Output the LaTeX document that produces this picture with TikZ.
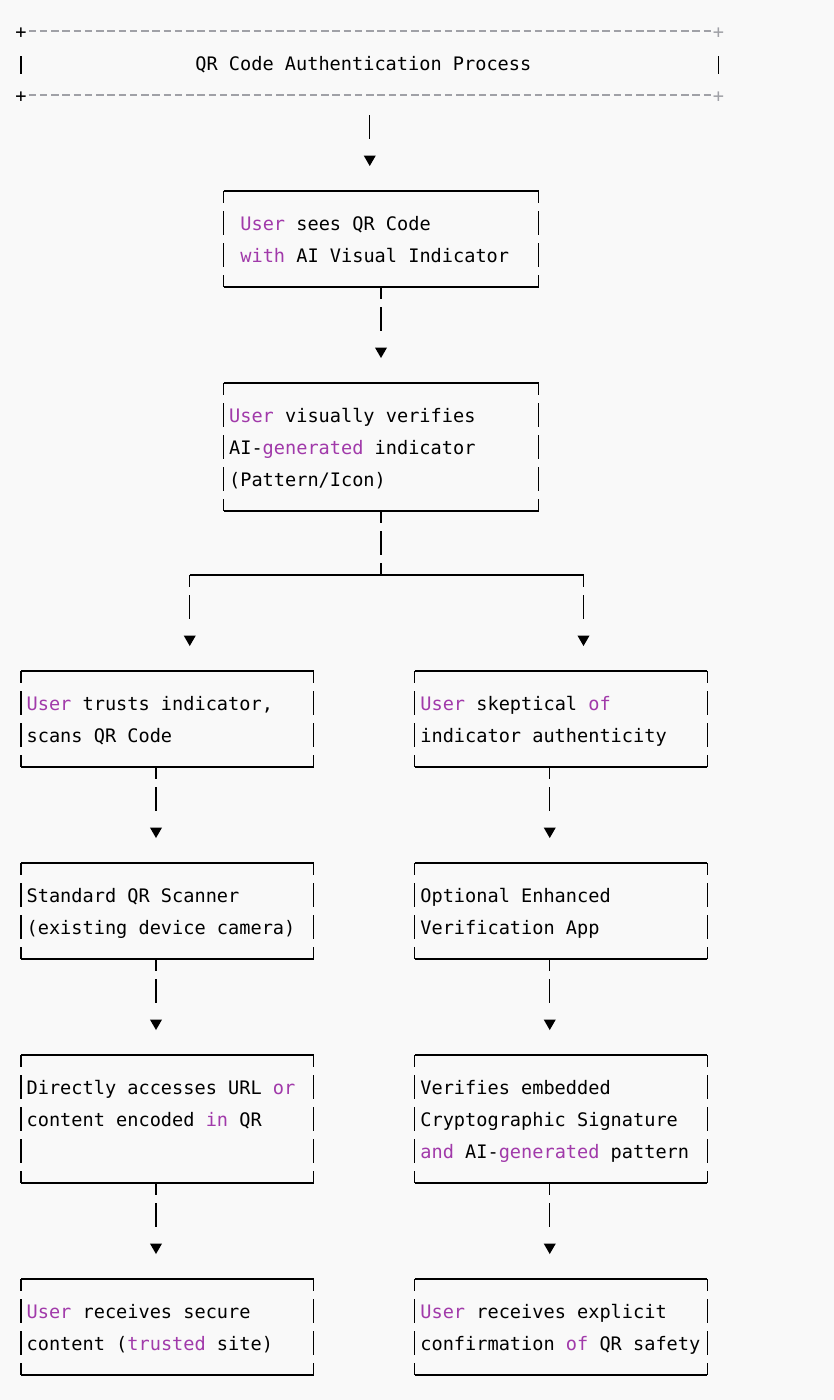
\documentclass[tikz,border=0pt]{standalone}
\usepackage{fontspec}
\usetikzlibrary{shapes.geometric}
\newfontfamily\codefont{DejaVu Sans Mono}
\definecolor{kwpurple}{HTML}{A13AAA}
\definecolor{rulegray}{HTML}{A0A1A7}
\definecolor{paper}{HTML}{F9F9F9}
\newcommand{\kw}[1]{\textcolor{kwpurple}{#1}}
% one text row: fixed space width, fixed row height
\newcommand{\R}{\frenchspacing\spaceskip=11.198pt\relax\rule[-9pt]{0pt}{32pt}}
\tikzset{
    codetext/.style={font=\codefont\fontsize{18.6pt}{32pt}\selectfont},
    flowbox/.style={codetext, align=left, inner ysep=0pt, outer sep=0pt, minimum height=96pt},
    tall/.style={minimum height=128pt},
    midbox/.style={flowbox, minimum width=315pt},
    sidebox/.style={flowbox, minimum width=292.5pt, inner xsep=5.625pt, text width=281.25pt},
    tip/.style={regular polygon, regular polygon sides=3, regular polygon rotate=180,
        fill=black, inner sep=0pt, minimum size=14pt},
    plus/.style={codetext, inner sep=0pt},
    side/.style={line width=1.4pt, dash pattern=on 24pt off 8pt, dash phase=12pt},
    conn/.style={line width=1.4pt, dash pattern=on 12pt off 8pt on 24pt off 40pt},
    hconn/.style={line width=1.4pt, dash pattern=on 24pt off 40pt, dash phase=44pt},
}
\begin{document}
\begin{tikzpicture}[x=1pt, y=-1pt]
    \fill[paper] (0,0) rectangle (834,1400);
    \useasboundingbox (0,0) rectangle (834,1400);
    % title block
    \node[codetext, align=left, inner ysep=0pt, outer sep=0pt, minimum width=697.5pt, minimum height=64pt,
        inner xsep=174.375pt, text width=348.75pt] (hdr) at (369.75,63) {\R QR Code Authentication Process};
    \draw[rulegray, line width=1.7pt, dash pattern=on 7.5pt off 3.75pt]
        ([xshift=7.5pt]hdr.north west) -- ([xshift=-7.5pt]hdr.north east)
        ([xshift=7.5pt]hdr.south west) -- ([xshift=-7.5pt]hdr.south east);
    \node[plus] (plusnw) at (hdr.north west) {\R+};
    \node[plus] (plussw) at (hdr.south west) {\R+};
    \node[plus, text=rulegray] (plusne) at (hdr.north east) {\R+};
    \node[plus, text=rulegray] (plusse) at (hdr.south east) {\R+};
    \draw[line width=1.6pt] ([yshift=7pt]hdr.west) -- ([yshift=-11pt]hdr.west)
        ([yshift=7pt]hdr.east) -- ([yshift=-11pt]hdr.east);
    % main column
    \node[midbox, inner xsep=16.875pt, text width=281.25pt] (seen) at (381,239)
        {\R\kw{User} sees QR Code\\\R\kw{with} AI Visual Indicator};
    \node[midbox, tall, inner xsep=5.625pt, text width=303.75pt] (check) at (381,447)
        {\R\kw{User} visually verifies\\\R AI-\kw{generated} indicator\\\R(Pattern/Icon)};
    % left branch
    \node[sidebox] (trust) at (167.25,719) {\R\kw{User} trusts indicator,\\\R scans QR Code};
    \node[sidebox] (scanner) at (167.25,911) {\R Standard QR Scanner\\\R(existing device camera)};
    \node[sidebox, tall] (access) at (167.25,1119)
        {\R Directly accesses URL \kw{or}\\\R content encoded \kw{in} QR\\\R};
    \node[sidebox] (secure) at (167.25,1327) {\R\kw{User} receives secure\\\R content (\kw{trusted} site)};
    % right branch
    \node[sidebox] (doubt) at (561,719) {\R\kw{User} skeptical \kw{of}\\\R indicator authenticity};
    \node[sidebox] (app) at (561,911) {\R Optional Enhanced\\\R Verification App};
    \node[sidebox, tall] (verify) at (561,1119)
        {\R Verifies embedded\\\R Cryptographic Signature\\\R\kw{and} AI-\kw{generated} pattern};
    \node[sidebox] (confirm) at (561,1327) {\R\kw{User} receives explicit\\\R confirmation \kw{of} QR safety};
    \foreach \n in {seen,check,trust,scanner,access,secure,doubt,app,verify,confirm}{
        \draw[line width=1.3pt] (\n.north west) -- (\n.north east) (\n.south west) -- (\n.south east);
        \draw[side] (\n.north west) -- (\n.south west) (\n.north east) -- (\n.south east);
    }
    % arrow heads
    \node[tip] (tipseen) at (369.75,159) {};
    \node[tip] (tipcheck) at (381,351) {};
    \node[tip] (tiptrust) at (189.75,639) {};
    \node[tip] (tipdoubt) at (583.5,639) {};
    \node[tip] (tipscanner) at (156,831) {};
    \node[tip] (tipaccess) at (156,1023) {};
    \node[tip] (tipsecure) at (156,1247) {};
    \node[tip] (tipapp) at (549.75,831) {};
    \node[tip] (tipverify) at (549.75,1023) {};
    \node[tip] (tipconfirm) at (549.75,1247) {};
    % connectors
    \draw[hconn] (hdr.south) -- (tipseen);
    \draw[conn] (seen.south) -- (tipcheck);
    \coordinate (fork) at (381,575);
    \coordinate (forkl) at (tiptrust |- fork);
    \coordinate (forkr) at (tipdoubt |- fork);
    \draw[side] (check.south) -- (fork);
    \draw[line width=1.3pt] (forkl) -- (forkr);
    \draw[conn] (forkl) -- (tiptrust);
    \draw[conn] (forkr) -- (tipdoubt);
    \foreach \a/\b in {trust/tipscanner, scanner/tipaccess, access/tipsecure,
        doubt/tipapp, app/tipverify, verify/tipconfirm}
        \draw[conn] (\b |- \a.south) -- (\b);
\end{tikzpicture}
\end{document}
